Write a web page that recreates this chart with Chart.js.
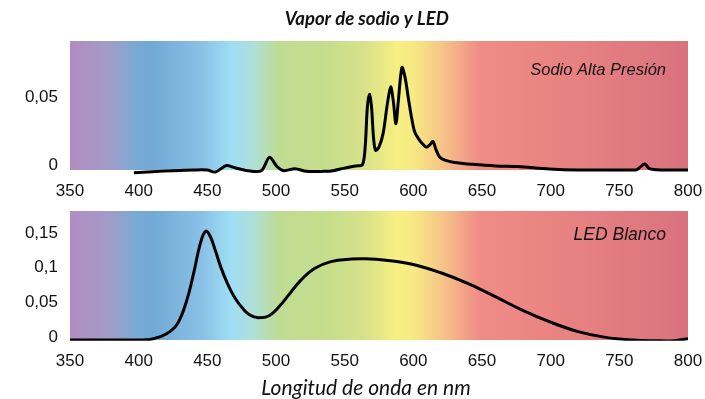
<!DOCTYPE html>
<html>
<head>
<meta charset="utf-8">
<script src="https://cdn.jsdelivr.net/npm/chart.js@4"></script>
<style>
  html, body { margin: 0; padding: 0; background: #fff; }
  #wrap { position: relative; width: 705px; height: 399px; }
  #c1 { position: absolute; left: 0; top: 0; }
  #c2 { position: absolute; left: 0; top: 200px; }
</style>
</head>
<body>
<div id="wrap">
  <canvas id="c1" width="705" height="200"></canvas>
  <canvas id="c2" width="705" height="199"></canvas>
</div>
<script>
// ---------- data ----------
const chartTitle = 'Vapor de sodio y LED';
const xAxisTitle = 'Longitud de onda en nm';
const sodiumLabel = 'Sodio Alta Presión';
const ledLabel = 'LED Blanco';

const xTicks = [350, 400, 450, 500, 550, 600, 650, 700, 750, 800];
const sodiumYTicks = [0, 0.05];
const ledYTicks = [0, 0.05, 0.1, 0.15];

const sodiumNm = [396.5, 410, 425, 440, 450, 455.9, 463.7, 470, 479.5, 489.3, 495.2, 500.8, 505.7, 513.9, 522, 535, 541.7, 549, 558.1,
  563, 565, 566.5, 568, 569.5, 571, 572.5, 575, 578, 581, 583.5, 585.5, 587.3, 589, 591.7, 594, 596.5, 599, 601, 603.5, 606, 609.5,
  612, 614.3, 616.5, 619, 623, 630, 643, 660, 676, 699, 720, 762, 765, 768.5, 772, 780, 800];
const sodiumVal = [-0.002, -0.0012, -0.0005, 0, 0, -0.0015, 0.0032, 0.0017, -0.0005, -0.0005, 0.0093, 0.0025, -0.0005, 0.001, -0.001, -0.001, -0.0005, 0.0012, 0.003,
  0.004, 0.018, 0.046, 0.0557, 0.047, 0.024, 0.0145, 0.017, 0.027, 0.048, 0.0612, 0.05, 0.034, 0.05, 0.0755, 0.068, 0.052, 0.037, 0.028, 0.0235, 0.02, 0.0168,
  0.0185, 0.021, 0.015, 0.0098, 0.0072, 0.0055, 0.0042, 0.003, 0.0025, 0.0007, 0, 0, 0.002, 0.0044, 0.001, 0, 0];

const ledNm = [350, 380, 400, 405, 410, 420, 428, 435, 440, 445, 448.8, 452, 456, 460, 465, 470, 476, 481, 487, 495, 502, 510, 518, 528, 540, 555, 565,
  580, 600, 620, 640, 660, 680, 700, 720, 740, 760, 775, 790, 800];
const ledVal = [0, 0, 0, 0.0003, 0.0015, 0.0087, 0.0228, 0.057, 0.096, 0.14, 0.157, 0.15, 0.128, 0.104, 0.08, 0.061, 0.045, 0.036, 0.032, 0.035, 0.0475, 0.0669, 0.086, 0.103, 0.113, 0.1167, 0.1172,
  0.115, 0.1089, 0.097, 0.0814, 0.0622, 0.0425, 0.0257, 0.0121, 0.0038, 0, -0.001, -0.001, 0.002];

// ---------- style ----------
const spectrumStops = [
  [350, '#b28cc0'], [378, '#a29cc8'], [398, '#7aaad4'], [410, '#72a9d5'], [445, '#88c0e6'],
  [468, '#a0def5'], [485, '#b0dfd4'], [502, '#bedc92'], [540, '#c6de8c'], [565, '#d8e28a'],
  [588, '#f7ef82'], [600, '#f7ea84'], [625, '#f5bd88'], [648, '#f08c86'], [700, '#ea8482'], [800, '#da727e']
];
const tickFont = { family: '"Liberation Sans", Arial, sans-serif', size: 17 };
const fmt = v => (v === 0 ? '0' : String(v).replace('.', ','));

const spectrumPlugin = {
  id: 'spectrum',
  beforeDatasetsDraw(chart) {
    const { ctx, chartArea: a, scales: { x } } = chart;
    const x0 = x.getPixelForValue(350), x1 = x.getPixelForValue(800);
    const g = ctx.createLinearGradient(x0, 0, x1, 0);
    spectrumStops.forEach(([nm, c]) => g.addColorStop((nm - 350) / 450, c));
    ctx.save();
    ctx.fillStyle = g;
    ctx.fillRect(a.left, a.top, a.right - a.left, a.bottom - a.top);
    ctx.restore();
  }
};

function textPlugin(items) {
  return {
    id: 'texts',
    afterDraw(chart) {
      const ctx = chart.ctx;
      ctx.save();
      items.forEach(t => {
        ctx.font = t.font;
        ctx.fillStyle = t.color || '#111';
        ctx.textAlign = t.align;
        ctx.textBaseline = 'middle';
        ctx.fillText(t.text, t.x, t.y);
      });
      ctx.restore();
    }
  };
}

function makeChart(canvas, nm, vals, yTicks, yMax, opts) {
  return new Chart(canvas, {
    type: 'line',
    data: {
      datasets: [{
        data: nm.map((x, i) => ({ x, y: vals[i] })),
        borderColor: '#000',
        borderWidth: 3,
        pointRadius: 0,
        fill: false,
        tension: opts.tension,
        clip: opts.clip
      }]
    },
    options: {
      responsive: false,
      animation: false,
      devicePixelRatio: 1,
      layout: { padding: { top: opts.padTop, right: 17, bottom: 0, left: 0 } },
      plugins: { legend: { display: false }, tooltip: { enabled: false }, title: { display: false } },
      scales: {
        x: {
          type: 'linear', min: 350, max: 800,
          afterBuildTicks: s => { s.ticks = xTicks.map(v => ({ value: v })); },
          afterFit: s => { s.height = opts.xHeight; s.paddingLeft = 0; s.paddingRight = 0; },
          grid: { display: false, drawTicks: false },
          border: { display: false },
          ticks: { font: tickFont, color: '#111', padding: 11, maxRotation: 0, autoSkip: false, callback: v => String(v) }
        },
        y: {
          type: 'linear', min: 0, max: yMax,
          afterBuildTicks: s => { s.ticks = yTicks.map(v => ({ value: v })); },
          afterFit: s => { s.width = 70; s.paddingTop = 0; s.paddingBottom = 0; },
          grid: { display: false, drawTicks: false },
          border: { display: false },
          ticks: { font: tickFont, color: '#111', padding: 12, labelOffset: opts.labelOffset, callback: v => fmt(v) }
        }
      }
    },
    plugins: [spectrumPlugin, textPlugin(opts.texts)]
  });
}

makeChart(document.getElementById('c1'), sodiumNm, sodiumVal, sodiumYTicks, 0.095, {
  padTop: 41, xHeight: 30, labelOffset: -4.5, tension: 0.3, clip: { left: 0, top: 2, right: 0, bottom: 5 },
  texts: [
    { text: chartTitle, x: 366.7, y: 19, align: 'center', font: 'italic bold 18.5px Lato, sans-serif', color: '#111' },
    { text: sodiumLabel, x: 666, y: 70, align: 'right', font: 'italic 16.5px "Liberation Sans", Arial, sans-serif' }
  ]
});

makeChart(document.getElementById('c2'), ledNm, ledVal, ledYTicks, 0.186, {
  padTop: 11, xHeight: 59, labelOffset: -3, tension: 0.4, clip: { left: 0, top: 2, right: 0, bottom: 0.8 },
  texts: [
    { text: ledLabel, x: 666, y: 35, align: 'right', font: 'italic 17.5px "Liberation Sans", Arial, sans-serif' },
    { text: xAxisTitle, x: 366, y: 188.3, align: 'center', font: 'italic 21px Lato, sans-serif', color: '#111' }
  ]
});
</script>
</body>
</html>
